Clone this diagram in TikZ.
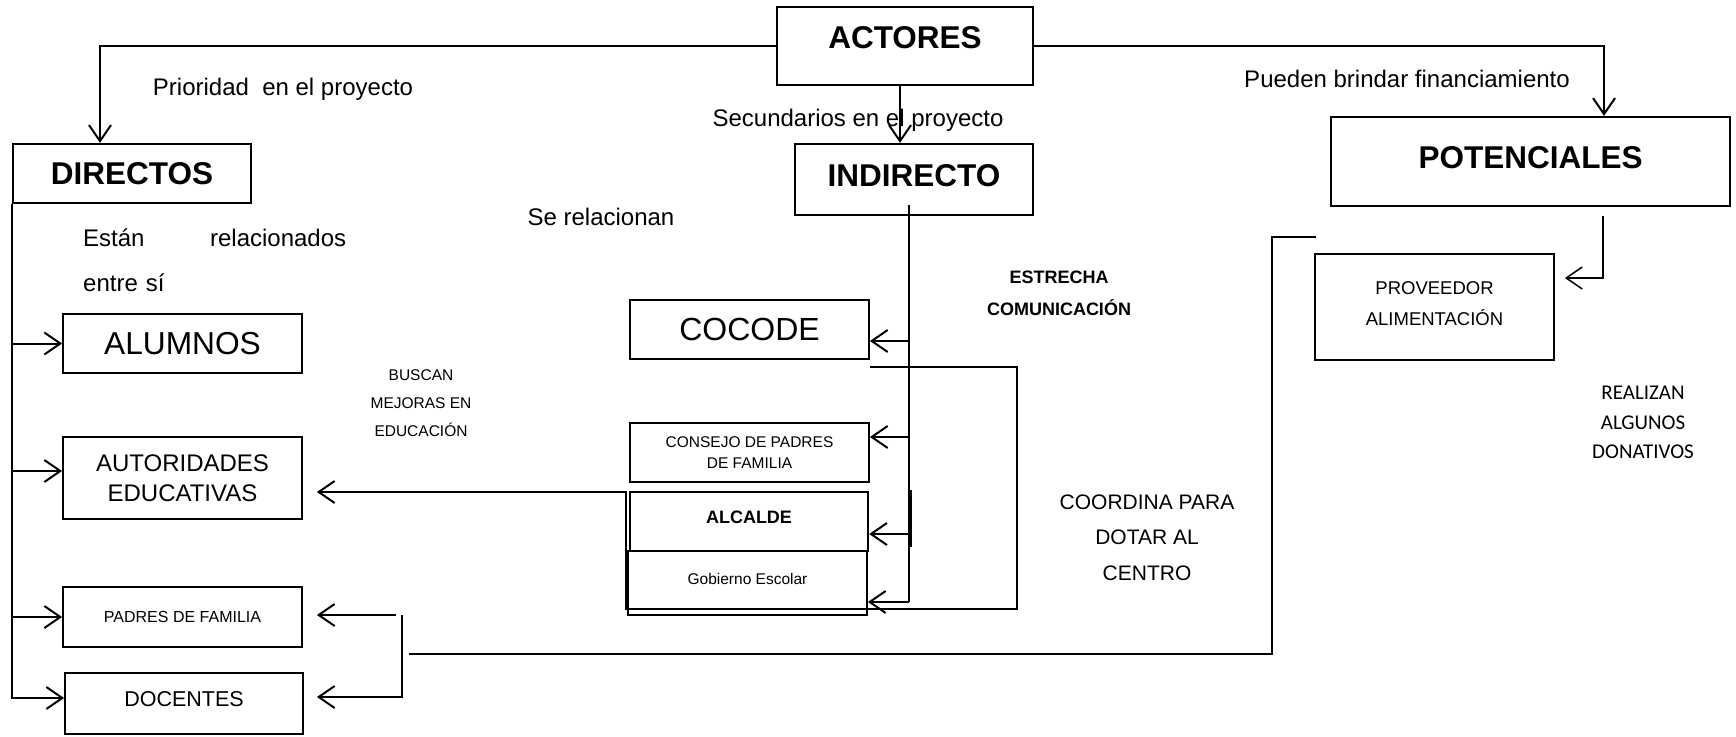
\documentclass[tikz,border=0pt]{standalone}
\usepackage{fontspec}
\setmainfont{Liberation Sans}
\newfontfamily\carlito{Carlito}
\usepackage{tikz}
\usetikzlibrary{positioning,arrows.meta,calc}
\tikzstyle{headbox} = [rectangle, draw=black, line width=2.3pt, inner sep=0pt, text centered, font=\bfseries\fontsize{31.5}{36}\selectfont]
\tikzstyle{itembox} = [rectangle, draw=black, line width=1.8pt, inner sep=0pt, minimum width=239pt, minimum height=59pt, align=center]
\tikzstyle{note} = [inner sep=0pt, align=center, font=\fontsize{24}{28}\selectfont]
\tikzstyle{arrow} = [line width=2pt,->,>={Straight Barb[length=16pt,width=22pt]}]
\tikzstyle{link} = [line width=1.3pt]

\begin{document}
\begin{tikzpicture}[x=1pt,y=-1pt]
      \fill [white] (0,0) rectangle (1736,736);

      % main boxes
      \node (actores) [headbox, minimum width=256pt, minimum height=78pt, text depth=16pt] at (905,46) {ACTORES};
      \node (directos) [headbox, minimum width=238pt, minimum height=59pt] at (132,173.5) {DIRECTOS};
      \node (indirecto) [headbox, minimum width=238pt, minimum height=71pt, text depth=9pt] at (914,179.5) {INDIRECTO};
      \node (potenciales) [headbox, minimum width=399pt, minimum height=89pt, text depth=9pt] at (1530.5,161.5) {POTENCIALES};

      % direct actors
      \node (alumnos) [itembox, font=\fontsize{31.7}{36}\selectfont] at (182.5,343.5) {ALUMNOS};
      \node (autoridades) [itembox, minimum height=82pt, font=\fontsize{24}{30}\selectfont] at (182.5,478) {AUTORIDADES\\EDUCATIVAS};
      \node (padres) [itembox, minimum height=60pt, font=\fontsize{16}{20}\selectfont] at (182.5,617) {PADRES DE FAMILIA};
      \node (docentes) [itembox, minimum width=238pt, minimum height=61pt, font=\fontsize{21.5}{26}\selectfont, text depth=10pt] at (184,703.5) {DOCENTES};

      % indirect actors
      \node (cocode) [itembox, font=\fontsize{32}{36}\selectfont] at (749.5,329.5) {COCODE};
      \node (consejo) [itembox, font=\fontsize{15.5}{21}\selectfont] at (749.5,452.5) {CONSEJO DE PADRES\\DE FAMILIA};
      \node (alcalde) [itembox, minimum width=238pt, line width=2.4pt, font=\bfseries\fontsize{18}{22}\selectfont, text depth=9pt] at (749,521.5) {ALCALDE};
      \node (gobierno) [itembox, minimum height=64pt, font=\fontsize{15.5}{20}\selectfont, text depth=8pt] at (747.5,583) {Gobierno Escolar};

      % potential actors
      \node (proveedor) [itembox, minimum height=106pt, font=\fontsize{18.5}{31}\selectfont, text depth=6pt] at (1434.5,307) {PROVEEDOR\\ALIMENTACIÓN};

      % texts
      \node (prioridad) [note] at (283,89) {Prioridad\ \ en el proyecto};
      \node (secundarios) [note] at (858,120) {Secundarios en el proyecto};
      \node (financia) [note] at (1407,79) {Pueden brindar financiamiento};
      \node (serelacionan) [note] at (601,217) {Se relacionan};
      \node (entresi) [note, anchor=north west, text width=263pt, align=left, font=\fontsize{24}{45}\selectfont] at (83,229) {Están\hfill relacionados\\entre sí};
      \node (mejoras) [note, font=\fontsize{15.5}{28}\selectfont] at (421,403) {BUSCAN\\MEJORAS EN\\EDUCACIÓN};
      \node (estrecha) [note, font=\bfseries\fontsize{18}{32}\selectfont] at (1059,293) {ESTRECHA\\COMUNICACIÓN};
      \node (coordina) [note, font=\fontsize{21}{35.5}\selectfont] at (1147,537.5) {COORDINA PARA\\DOTAR AL\\CENTRO};
      \node (realizan) [note, font=\carlito\fontsize{21}{29.5}\selectfont] at (1643,422.5) {REALIZAN\\ALGUNOS\\DONATIVOS};

      % from ACTORES
      \draw [arrow] (actores.west) -| ([xshift=-32pt]directos.north);
      \draw [arrow] (actores.east) -| ([xshift=73.5pt]potenciales.north);
      \draw [arrow] ([xshift=-5pt]actores.south) -- ([xshift=-14pt]indirecto.north);

      % DIRECTOS branch
      \draw [arrow] (directos.south west) |- ([yshift=5.5pt]docentes.west);
      \draw [arrow] (directos.south west |- alumnos.west) -- (alumnos.west);
      \draw [arrow] ([yshift=7pt]directos.south west |- autoridades.west) -- ([yshift=7pt]autoridades.west);
      \draw [arrow] (directos.south west |- padres.west) -- (padres.west);

      % INDIRECTO branch
      \coordinate (tapA) at (909,341);
      \coordinate (tapB) at (909,437);
      \coordinate (tapC) at (911,534);
      \coordinate (tapD) at (909,602);
      \draw [link] ([xshift=-5pt,yshift=11pt]indirecto.south) -- (tapD);
      \draw [line width=2pt] (911,490) -- (911,547);
      \draw [arrow] (tapA) -- (tapA -| cocode.east);
      \draw [arrow] (tapB) -- (tapB -| consejo.east);
      \draw [arrow] (tapC) -- (tapC -| alcalde.east);
      \draw [arrow] (tapD) -- (tapD -| gobierno.east);

      % coordination line
      \coordinate (cocodeend) at (870,367);
      \coordinate (authook) at (407,492);
      \draw [link] (cocodeend) -| (1017,609) -| (626,492) -- (authook);
      \draw [arrow, shorten >=14pt] (authook) -- (authook -| autoridades.east);

      % PADRES and DOCENTES
      \coordinate (pfork) at (402,615);
      \draw [arrow, shorten >=14pt] ([xshift=-6pt]pfork) -- (pfork -| padres.east);
      \draw [arrow, shorten >=13pt] (pfork) |- ([yshift=6.5pt]docentes.east);

      % long line to provider
      \coordinate (bottomleft) at (409,654);
      \coordinate (provtop) at (1316,237);
      \draw [link] (bottomleft) -| ([xshift=-44pt]provtop) -- (provtop);

      % POTENCIALES branch
      \draw [arrow, line width=1.5pt, shorten >=10pt] ([xshift=72.5pt,yshift=-9pt]potenciales.south) |- ([yshift=29pt]proveedor.east);

\end{tikzpicture}
\end{document}
